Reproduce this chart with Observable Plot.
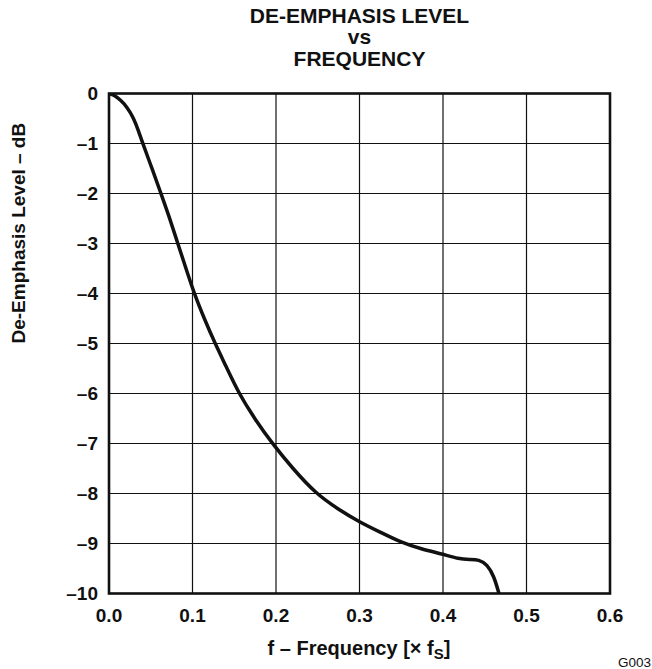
<!DOCTYPE html>
<html>
<head>
<meta charset="utf-8">
<script src="https://cdn.jsdelivr.net/npm/d3@7"></script>
<script src="https://cdn.jsdelivr.net/npm/@observablehq/plot@0.6"></script>
<style>
  html, body { margin: 0; padding: 0; background: #fff; }
</style>
</head>
<body>
<div id="chart"></div>
<script>
const freq  = [0, 0.006, 0.0138, 0.0216, 0.0296, 0.0356, 0.040, 0.052, 0.062, 0.072, 0.082, 0.092, 0.102, 0.114, 0.127, 0.140, 0.1555, 0.175, 0.1955, 0.220, 0.2475, 0.275, 0.300, 0.3257, 0.350, 0.374, 0.399, 0.419, 0.432, 0.443, 0.453, 0.461, 0.467];
const level = [0, -0.03, -0.13, -0.27, -0.49, -0.76, -0.98, -1.52, -1.99, -2.46, -2.98, -3.49, -4.00, -4.50, -5.00, -5.45, -6.00, -6.52, -7.00, -7.50, -8.00, -8.32, -8.57, -8.78, -8.98, -9.11, -9.21, -9.31, -9.32, -9.32, -9.42, -9.65, -10.0];
const xTicks = [0, 0.1, 0.2, 0.3, 0.4, 0.5, 0.6];
const yTicks = [0, -1, -2, -3, -4, -5, -6, -7, -8, -9, -10];
const xGrid = [0.1, 0.2, 0.3, 0.4, 0.5];
const yGrid = [-1, -2, -3, -4, -5, -6, -7, -8, -9];
const title = "DE-EMPHASIS LEVEL\nvs\nFREQUENCY";
const yTitle = "De-Emphasis Level – dB";
const xTitleMain = "f – Frequency [× f";
const xTitleSub = "S";
const xTitleEnd = "]";
const figId = "G003";

const data = freq.map((f, i) => ({f, v: level[i]}));
const font = "'Liberation Sans', Arial, Helvetica, sans-serif";

const chart = Plot.plot({
  width: 652,
  height: 669,
  marginTop: 93,
  marginBottom: 76,
  marginLeft: 108.5,
  marginRight: 42.5,
  style: {fontFamily: font, fontSize: "19px", fontWeight: "bold", color: "#111", background: "#fff"},
  x: {domain: [0, 0.6]},
  y: {domain: [-10, 0]},
  marks: [
    Plot.ruleX(xGrid, {stroke: "#111", strokeWidth: 1.2}),
    Plot.ruleY(yGrid, {stroke: "#111", strokeWidth: 1.2}),
    Plot.line(data, {x: "f", y: "v", stroke: "#111", strokeWidth: 3.5, curve: "basis", clip: true}),
    Plot.frame({stroke: "#111", strokeWidth: 2.6}),
    Plot.axisX({ticks: xTicks, tickSize: 0, tickPadding: 15, tickFormat: d3.format(".1f"), label: null, fontSize: 19, fontWeight: "bold"}),
    Plot.axisY({ticks: yTicks, tickSize: 0, tickPadding: 11, tickFormat: d => d === 0 ? "0" : "–" + Math.abs(d), label: null, fontSize: 19, fontWeight: "bold"}),
    Plot.text([title], {frameAnchor: "top", lineAnchor: "middle", dy: -56, lineHeight: 1.03, fontSize: 21, fontWeight: "bold", fill: "#111"}),
    Plot.text([yTitle], {frameAnchor: "left", rotate: -90, dx: -90, lineAnchor: "middle", fontSize: 19, fontWeight: "bold", fill: "#111"})
  ]
});

const svg = d3.select(chart);
const xt = svg.append("text")
  .attr("x", 359).attr("y", 655)
  .attr("text-anchor", "middle")
  .attr("font-family", font).attr("font-size", 20).attr("font-weight", "bold").attr("fill", "#111");
xt.append("tspan").text(xTitleMain);
xt.append("tspan").attr("font-size", 15).attr("dy", 4).text(xTitleSub);
xt.append("tspan").attr("dy", -4).text(xTitleEnd);

svg.append("text")
  .attr("x", 651).attr("y", 667)
  .attr("text-anchor", "end")
  .attr("font-family", font).attr("font-size", 13.5).attr("font-weight", "normal").attr("fill", "#111")
  .text(figId);

document.getElementById("chart").appendChild(chart);
</script>
</body>
</html>
